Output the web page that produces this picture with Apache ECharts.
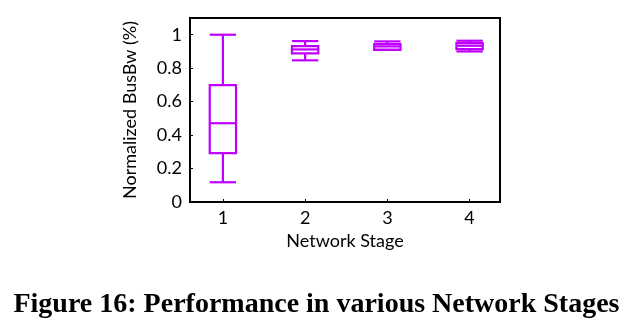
<!DOCTYPE html>
<html>
<head>
<meta charset="utf-8">
<script src="https://cdn.jsdelivr.net/npm/echarts@6/dist/echarts.min.js"></script>
<style>html,body{margin:0;padding:0;background:#fff;}#c{width:633px;height:324px;}</style>
</head>
<body>
<div id="c"></div>
<script>
var categories = [1, 2, 3, 4];
var mins    = [0.118, 0.847, 0.910, 0.900];
var q1s     = [0.292, 0.889, 0.910, 0.914];
var medians = [0.471, 0.912, 0.930, 0.934];
var q3s     = [0.699, 0.932, 0.944, 0.950];
var maxs    = [1.000, 0.962, 0.960, 0.964];
var yTicks = [0, 0.2, 0.4, 0.6, 0.8, 1];

var color = '#c000ff';
var data = categories.map(function (c, i) {
  return [c, mins[i], q1s[i], medians[i], q3s[i], maxs[i]];
});

var chart = echarts.init(document.getElementById('c'));
var font = 'Lato';
chart.setOption({
  animation: false,
  title: {
    text: 'Figure 16: Performance in various Network Stages',
    left: 'center', top: 286,
    textStyle: {fontFamily: 'Liberation Serif', fontWeight: 'bold', fontSize: 28, color: '#000'}
  },
  grid: {left: 190, right: 133, top: 18, bottom: 122, show: true, borderColor: '#000', borderWidth: 2},
  xAxis: {
    type: 'value', min: 0.6, max: 4.37,
    name: 'Network Stage', nameLocation: 'middle', nameGap: 26,
    nameTextStyle: {fontFamily: font, fontSize: 18, color: '#000'},
    axisLine: {show: true, lineStyle: {color: '#000', width: 2}},
    axisTick: {show: true, inside: true, length: 3, customValues: categories, lineStyle: {color: '#000'}},
    axisLabel: {customValues: categories, fontFamily: font, fontSize: 18, color: '#000', margin: 7},
    splitLine: {show: false}
  },
  yAxis: {
    type: 'value', min: 0, max: 1.1,
    name: 'Normalized BusBw (%)', nameLocation: 'middle', nameGap: 51,
    nameTextStyle: {fontFamily: font, fontSize: 18, color: '#000'},
    axisLine: {show: true, lineStyle: {color: '#000', width: 2}},
    axisTick: {show: true, inside: true, length: 3, customValues: yTicks, lineStyle: {color: '#000'}},
    axisLabel: {customValues: yTicks, fontFamily: font, fontSize: 18, color: '#000', margin: 8,
      formatter: function (v) { return String(+v.toFixed(1)); }},
    splitLine: {show: false}
  },
  series: [{
    type: 'custom',
    data: data,
    renderItem: function (params, api) {
      var x = api.value(0), hw = 0.16;
      var lo = api.value(1), q1 = api.value(2), md = api.value(3), q3 = api.value(4), hi = api.value(5);
      var s = {stroke: color, lineWidth: 2.2, fill: null};
      function P(a, b) { return api.coord([a, b]); }
      function line(p1, p2) {
        return {type: 'line', shape: {x1: p1[0], y1: p1[1], x2: p2[0], y2: p2[1]}, style: s};
      }
      var tl = P(x - hw, q3), br = P(x + hw, q1);
      return {type: 'group', children: [
        line(P(x, hi), P(x, q3)),
        line(P(x, q1), P(x, lo)),
        line(P(x - hw, hi), P(x + hw, hi)),
        line(P(x - hw, lo), P(x + hw, lo)),
        {type: 'rect', shape: {x: tl[0], y: tl[1], width: br[0] - tl[0], height: br[1] - tl[1]}, style: {stroke: color, lineWidth: 2.2, fill: 'rgba(0,0,0,0)'}},
        line(P(x - hw, md), P(x + hw, md))
      ]};
    }
  }]
});
</script>
</body>
</html>
